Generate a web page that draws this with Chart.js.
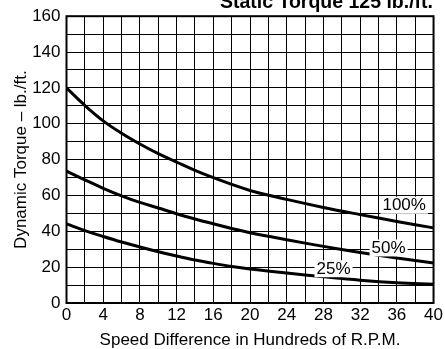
<!DOCTYPE html>
<html>
<head>
<meta charset="utf-8">
<script src="https://cdn.jsdelivr.net/npm/chart.js@4/dist/chart.umd.min.js"></script>
<style>
  html, body { margin: 0; padding: 0; background: #fff; }
  #wrap { width: 445px; height: 349px; position: relative; }
</style>
</head>
<body>
<div id="wrap"><canvas id="torqueChart"></canvas></div>
<script>
// speed difference (hundreds of rpm)
const speed = [0, 2, 4, 6, 8, 10, 12, 14, 16, 18, 20, 24, 28, 32, 36, 40];
// dynamic torque (lb./ft.) at % of static torque
const torque100 = [120, 110.2, 101.6, 94.7, 88.7, 83.3, 78.6, 74, 69.9, 66.2, 62.8, 57.8, 53.3, 49.3, 45.5, 41.9];
const torque50 = [73.6, 68.7, 64, 59.8, 56.1, 53, 49.8, 46.9, 44.2, 41.6, 39.2, 35.3, 31.6, 28.2, 25.1, 22.3];
const torque25 = [44.1, 40.4, 37.1, 34, 31.2, 28.6, 26.2, 24, 22.1, 20.4, 19, 16.7, 14.6, 12.7, 11.3, 10.5];

const curveLabels = ['100%', '50%', '25%'];
const labelSpots = [[36.8, 54.8], [35.1, 31], [29.1, 19.4]];

const chartTitle = 'Static Torque 125 lb./ft.';
const fontFamily = '"Liberation Sans", Arial, Helvetica, sans-serif';

function toPoints(ys) {
    return speed.map((x, i) => ({ x: x, y: ys[i] }));
}

function curve(ys) {
    return {
        data: toPoints(ys),
        borderColor: '#000',
        borderWidth: 3,
        pointRadius: 0,
        fill: false,
        tension: 0.4
    };
}

// frame, title and the in-plot labels
const extras = {
    id: 'extras',
    afterDatasetsDraw(chart) {
        const ctx = chart.ctx;
        const area = chart.chartArea;
        const xs = chart.scales.x;
        const ys = chart.scales.y;
        ctx.save();
        ctx.font = '17px ' + fontFamily;
        ctx.textAlign = 'center';
        ctx.textBaseline = 'middle';
        curveLabels.forEach((txt, i) => {
            const px = xs.getPixelForValue(labelSpots[i][0]);
            const py = ys.getPixelForValue(labelSpots[i][1]);
            const w = ctx.measureText(txt).width;
            ctx.fillStyle = '#fff';
            ctx.fillRect(px - w / 2 - 2, py - 8, w + 4, 17);
            ctx.fillStyle = '#000';
            ctx.fillText(txt, px, py + 1);
        });
        ctx.strokeStyle = '#000';
        ctx.lineWidth = 2;
        ctx.strokeRect(area.left, area.top, area.right - area.left, area.bottom - area.top);
        ctx.font = 'bold 19.5px ' + fontFamily;
        ctx.textAlign = 'right';
        ctx.textBaseline = 'alphabetic';
        ctx.fillText(chartTitle, 433, 7.5);
        ctx.restore();
    }
};

new Chart(document.getElementById('torqueChart'), {
    type: 'line',
    data: {
        datasets: [curve(torque100), curve(torque50), curve(torque25)]
    },
    options: {
        responsive: true,
        maintainAspectRatio: false,
        animation: false,
        layout: { padding: { top: 13.5, right: 10, left: 0, bottom: 0 } },
        plugins: { legend: { display: false }, tooltip: { enabled: false } },
        scales: {
            x: {
                type: 'linear',
                min: 0,
                max: 40,
                afterFit: (s) => { s.height = 46; },
                grid: { color: '#000', lineWidth: 1, drawTicks: false },
                border: { display: false },
                ticks: {
                    stepSize: 2,
                    autoSkip: false,
                    maxRotation: 0,
                    padding: 2,
                    color: '#000',
                    font: { family: fontFamily, size: 17 },
                    callback: (v) => (v % 4 === 0 ? String(v) : '')
                },
                title: {
                    display: true,
                    text: 'Speed Difference in Hundreds of R.P.M.',
                    color: '#000',
                    padding: { top: 0, bottom: -2 },
                    font: { family: fontFamily, size: 17 }
                }
            },
            y: {
                min: 0,
                max: 160,
                afterFit: (s) => { s.width = 66.5; },
                grid: { color: '#000', lineWidth: 1, drawTicks: false },
                border: { display: false },
                ticks: {
                    stepSize: 10,
                    autoSkip: false,
                    padding: 6,
                    color: '#000',
                    font: { family: fontFamily, size: 17 },
                    callback: (v) => (v % 20 === 0 ? String(v) : '')
                },
                title: {
                    display: true,
                    text: 'Dynamic Torque \u2013 lb./ft.',
                    color: '#000',
                    padding: { top: 11, bottom: 0 },
                    font: { family: fontFamily, size: 17 }
                }
            }
        }
    },
    plugins: [extras]
});
</script>
</body>
</html>
